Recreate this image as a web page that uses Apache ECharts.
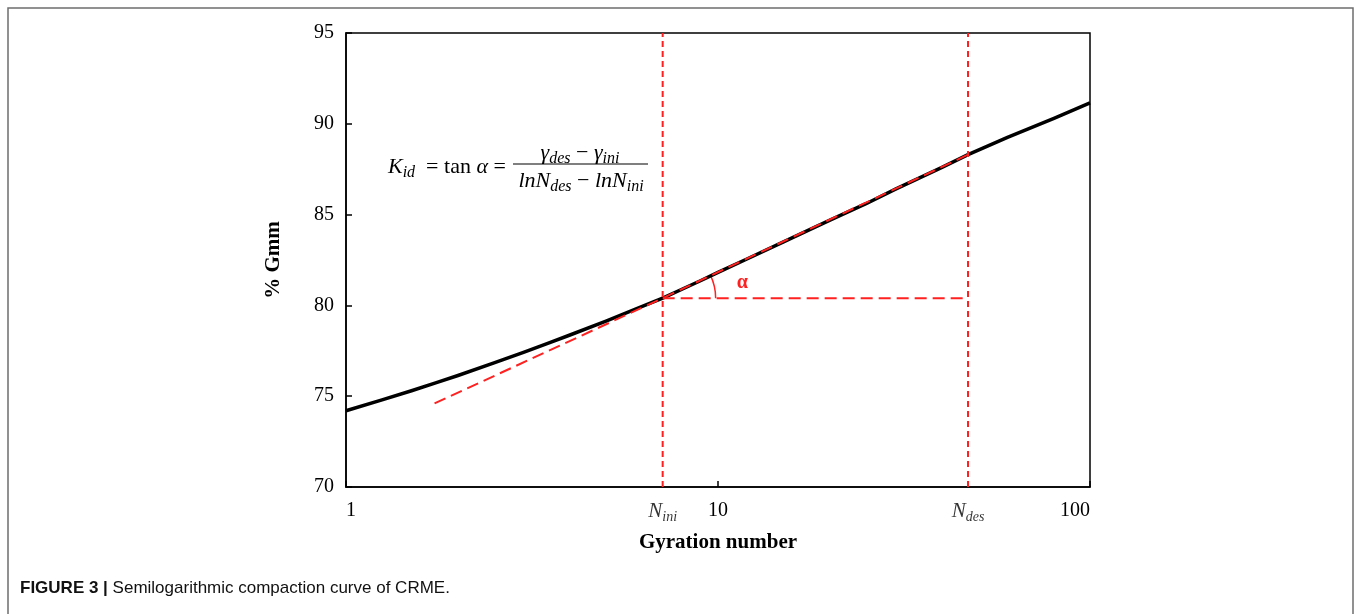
<!DOCTYPE html>
<html>
<head>
<meta charset="utf-8">
<script src="https://cdn.jsdelivr.net/npm/echarts@6/dist/echarts.min.js"></script>
<style>
html,body{margin:0;padding:0;background:#fff;}
#main{width:1356px;height:614px;}
</style>
</head>
<body>
<div id="main"></div>
<script>
// compaction curve
var gyrations = [1, 1.25, 1.5, 1.75, 2, 2.5, 3, 3.5, 4, 5, 6, 7.1, 8, 9, 10, 12, 15, 20, 25, 30, 40, 47, 60, 80, 100];
var gmm = [74.2, 74.8, 75.3, 75.75, 76.14, 76.83, 77.41, 77.92, 78.37, 79.14, 79.79, 80.4, 80.89, 81.37, 81.82, 82.57, 83.5, 84.7, 85.6, 86.4, 87.6, 88.3, 89.25, 90.3, 91.15];
var nIni = 7.1, nDes = 47;
var gIni = 80.4, gDes = 88.3;
var tangentN = [1.73, nIni, nDes];
var tangentG = [74.6, gIni, gDes];
var yMin = 70, yMax = 95, yStep = 5;

var red = '#ff2020';
var serif = '"Liberation Serif", "DejaVu Serif", serif';

var chart = echarts.init(document.getElementById('main'));

function pairs(xs, ys) {
    return xs.map(function (x, i) { return [x, ys[i]]; });
}

var option = {
    animation: false,
    backgroundColor: '#fff',
    grid: {left: 346, right: 266, top: 33, bottom: 127, show: true, borderColor: '#000', borderWidth: 1.5},
    xAxis: {
        type: 'log', logBase: 10, min: 1, max: 100,
        name: 'Gyration number', nameLocation: 'middle', nameGap: 45,
        nameTextStyle: {fontFamily: serif, fontWeight: 'bold', fontSize: 21, color: '#000'},
        axisLine: {lineStyle: {color: '#000', width: 1.5}},
        axisTick: {inside: true, length: 6, lineStyle: {color: '#000', width: 1.5}},
        minorTick: {show: false},
        splitLine: {show: false},
        axisLabel: {fontFamily: serif, fontSize: 20, color: '#000', margin: 14, alignMinLabel: 'left', alignMaxLabel: 'right'}
    },
    yAxis: {
        type: 'value', min: yMin, max: yMax, interval: yStep,
        name: '% Gmm', nameLocation: 'middle', nameGap: 62,
        nameTextStyle: {fontFamily: serif, fontWeight: 'bold', fontSize: 21, color: '#000'},
        axisLine: {lineStyle: {color: '#000', width: 1.5}},
        axisTick: {inside: true, length: 6, lineStyle: {color: '#000', width: 1.5}},
        splitLine: {show: false},
        axisLabel: {fontFamily: serif, fontSize: 20, color: '#000', margin: 12}
    },
    series: [
        {
            type: 'line', data: pairs(gyrations, gmm), symbol: 'none', z: 2,
            lineStyle: {color: '#000', width: 3.5, join: 'round'}
        },
        {
            type: 'line', data: pairs(tangentN, tangentG), symbol: 'none', z: 3,
            lineStyle: {color: red, width: 2, type: [12, 6]}
        },
        {
            type: 'line', data: [[nIni, gIni], [nDes, gIni]], symbol: 'none', z: 3,
            lineStyle: {color: red, width: 2, type: [12, 6]}
        },
        {
            type: 'line', data: [[nIni, yMin], [nIni, yMax]], symbol: 'none', z: 3,
            lineStyle: {color: red, width: 2, type: [6, 4]}
        },
        {
            type: 'line', data: [[nDes, yMin], [nDes, yMax]], symbol: 'none', z: 3,
            lineStyle: {color: red, width: 2, type: [6, 4]}
        },
        {
            type: 'scatter', symbolSize: 0, z: 4,
            data: [
                {value: [nIni, yMin], name: 'ini'},
                {value: [nDes, yMin], name: 'des'}
            ],
            label: {
                show: true, position: 'bottom', distance: 11,
                formatter: function (p) { return '{n|N}{s|' + p.name + '}'; },
                rich: {
                    n: {fontFamily: serif, fontStyle: 'italic', fontSize: 21, color: '#000'},
                    s: {fontFamily: serif, fontStyle: 'italic', fontSize: 14, color: '#000', padding: [12, 0, 0, 0]}
                }
            }
        }
    ]
};
chart.setOption(option);

// alpha arc and label, placed from data coords
var p0 = chart.convertToPixel({gridIndex: 0}, [nIni, gIni]);
var p1 = chart.convertToPixel({gridIndex: 0}, [nDes, gDes]);
var ang = Math.atan2(p1[1] - p0[1], p1[0] - p0[0]);

var mathFont = 'italic 22px ' + serif;
var mathRich = {
    i: {font: mathFont, fill: '#000'},
    r: {font: '22px ' + serif, fill: '#000'},
    s: {font: 'italic 16px ' + serif, fill: '#000', padding: [11, 0, 0, 0]}
};
chart.setOption({
    graphic: [
        {
            type: 'rect', shape: {x: 8, y: 8, width: 1345, height: 700},
            style: {fill: null, stroke: '#6e6e6e', lineWidth: 1.5}, silent: true
        },
        {
            type: 'arc', shape: {cx: p0[0], cy: p0[1], r: 53, startAngle: ang, endAngle: 0, clockwise: true},
            style: {fill: null, stroke: red, lineWidth: 1.5}
        },
        {
            type: 'text', x: p0[0] + 74, y: p0[1] - 15,
            style: {text: 'α', font: 'bold 20px ' + serif, fill: red, align: 'left', verticalAlign: 'middle'}
        },
        // formula K_id = tan α = (γdes − γini)/(lnNdes − lnNini)
        {
            type: 'text', x: 388, y: 167,
            style: {text: '{i|K}{s|id}{r|  = tan }{i|α}{r| =}', verticalAlign: 'middle', rich: mathRich}
        },
        {
            type: 'text', x: 580, y: 153,
            style: {text: '{i|γ}{s|des}{r| − }{i|γ}{s|ini}', align: 'center', verticalAlign: 'middle', rich: mathRich}
        },
        {
            type: 'line', shape: {x1: 513, y1: 164, x2: 648, y2: 164},
            style: {stroke: '#000', lineWidth: 1.2}
        },
        {
            type: 'text', x: 581, y: 181,
            style: {text: '{i|lnN}{s|des}{r| − }{i|lnN}{s|ini}', align: 'center', verticalAlign: 'middle', rich: mathRich}
        },
        {
            type: 'text', x: 20, y: 588,
            style: {
                text: '{b|FIGURE 3 | }{t|Semilogarithmic compaction curve of CRME.}',
                verticalAlign: 'middle',
                rich: {
                    b: {font: 'bold 17px "Liberation Sans", Arial, sans-serif', fill: '#111'},
                    t: {font: '17px "Liberation Sans", Arial, sans-serif', fill: '#111'}
                }
            }
        }
    ]
});
</script>
</body>
</html>
